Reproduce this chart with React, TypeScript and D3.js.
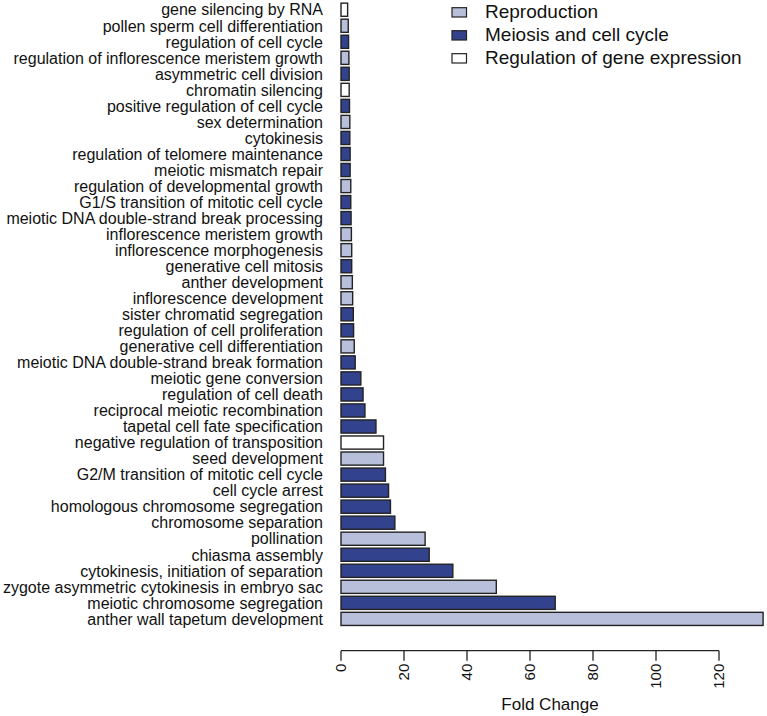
import React from "react";
import * as d3 from "d3";

const categories = [
  "gene silencing by RNA",
  "pollen sperm cell differentiation",
  "regulation of cell cycle",
  "regulation of inflorescence meristem growth",
  "asymmetric cell division",
  "chromatin silencing",
  "positive regulation of cell cycle",
  "sex determination",
  "cytokinesis",
  "regulation of telomere maintenance",
  "meiotic mismatch repair",
  "regulation of developmental growth",
  "G1/S transition of mitotic cell cycle",
  "meiotic DNA double-strand break processing",
  "inflorescence meristem growth",
  "inflorescence morphogenesis",
  "generative cell mitosis",
  "anther development",
  "inflorescence development",
  "sister chromatid segregation",
  "regulation of cell proliferation",
  "generative cell differentiation",
  "meiotic DNA double-strand break formation",
  "meiotic gene conversion",
  "regulation of cell death",
  "reciprocal meiotic recombination",
  "tapetal cell fate specification",
  "negative regulation of transposition",
  "seed development",
  "G2/M transition of mitotic cell cycle",
  "cell cycle arrest",
  "homologous chromosome segregation",
  "chromosome separation",
  "pollination",
  "chiasma assembly",
  "cytokinesis, initiation of separation",
  "zygote asymmetric cytokinesis in embryo sac",
  "meiotic chromosome segregation",
  "anther wall tapetum development",
];

const foldChange = [
  2.1, 2.3, 2.4, 2.5, 2.6, 2.6, 2.7, 2.8, 2.8, 2.9, 2.9, 3.1, 3.1,
  3.2, 3.3, 3.4, 3.4, 3.6, 3.7, 3.9, 4.0, 4.2, 4.5, 6.3, 7.0,
  7.6, 11.1, 13.5, 13.5, 14.1, 15.1, 15.7, 17.1, 26.7, 28.0, 35.5, 49.3, 68.0, 134.0,
];

// R = Reproduction, M = Meiosis and cell cycle, G = Regulation of gene expression
const groups = [
  "G", "R", "M", "R", "M", "G", "M", "R", "M", "M", "M", "R", "M",
  "M", "R", "R", "M", "R", "R", "M", "M", "R", "M", "M", "M",
  "M", "M", "G", "R", "M", "M", "M", "M", "R", "M", "M", "R", "M", "R",
];

const legendKeys = ["R", "M", "G"];
const legendLabels = ["Reproduction", "Meiosis and cell cycle", "Regulation of gene expression"];
const xTicks = [0, 20, 40, 60, 80, 100, 120];
const xTitle = "Fold Change";

const colors: Record<string, string> = {
  R: "#B8BFDB",
  M: "#33428C",
  G: "#FFFFFF",
};

const FONT = "'Liberation Sans', Arial, Helvetica, sans-serif";

export default function App() {
  const W = 767;
  const H = 716;
  const x = d3.scaleLinear().domain([0, 120]).range([341, 719]);
  const y = d3
    .scaleBand<string>()
    .domain(categories)
    .range([1.7, 626.9])
    .paddingInner(0.18)
    .paddingOuter(0.09);
  const axisY = 650.7;

  return (
    <svg
      width={W}
      height={H}
      style={{ position: "absolute", left: 0, top: 0, background: "#fff" }}
      fontFamily={FONT}
    >
      {categories.map((c, i) => (
        <g key={c}>
          <rect
            x={x(0)}
            y={y(c)!}
            width={x(foldChange[i]) - x(0)}
            height={y.bandwidth()}
            fill={colors[groups[i]]}
            stroke="#222"
            strokeWidth={1.4}
          />
          <text
            x={323}
            y={y(c)! + y.bandwidth() / 2}
            dy="0.36em"
            textAnchor="end"
            fontSize={16}
            fill="#111"
          >
            {c}
          </text>
        </g>
      ))}

      {/* x axis */}
      <line x1={x(0)} x2={x(120)} y1={axisY} y2={axisY} stroke="#222" strokeWidth={1.3} />
      {xTicks.map((t) => (
        <g key={t}>
          <line x1={x(t)} x2={x(t)} y1={axisY} y2={axisY + 10} stroke="#222" strokeWidth={1.3} />
          <text
            transform={`translate(${x(t)},${axisY + 13}) rotate(-90)`}
            textAnchor="end"
            dy="0.36em"
            fontSize={15}
            fill="#111"
          >
            {t}
          </text>
        </g>
      ))}
      <text x={550} y={710} textAnchor="middle" fontSize={17} fill="#111">
        {xTitle}
      </text>

      {/* legend */}
      {legendKeys.map((k, i) => (
        <g key={k}>
          <rect
            x={452}
            y={7.7 + i * 23}
            width={14.5}
            height={9.3}
            fill={colors[k]}
            stroke="#222"
            strokeWidth={1.2}
          />
          <text x={485} y={17.5 + i * 23} fontSize={19} fill="#111">
            {legendLabels[i]}
          </text>
        </g>
      ))}
    </svg>
  );
}
